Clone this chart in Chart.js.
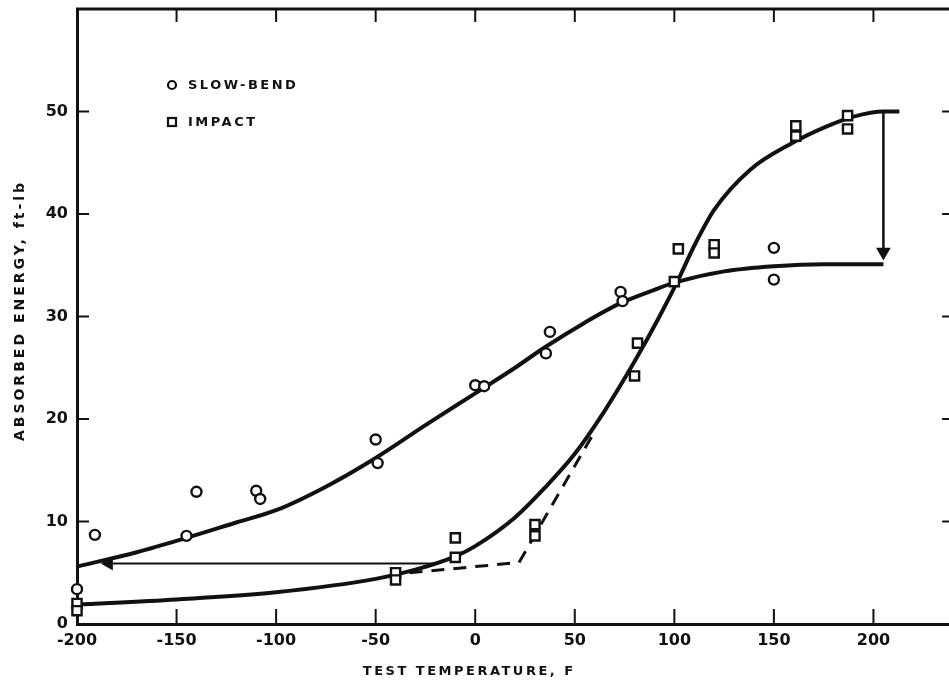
<!DOCTYPE html>
<html>
<head>
<meta charset="utf-8">
<script src="https://cdn.jsdelivr.net/npm/chart.js@4.4.1/dist/chart.umd.min.js"></script>
<style>
  body { margin: 0; background: #fff; overflow: hidden; }
  #c { display: block; }
</style>
</head>
<body>
<canvas id="c" width="960" height="686"></canvas>
<script>
// test points (temperature F, energy ft-lb)
var slowBendT = [-200, -191, -145, -140, -110, -108, -50, -49, 0, 4.5, 35.5, 37.5, 73, 74, 150, 150]
var slowBendE = [3.4, 8.7, 8.6, 12.9, 13.0, 12.2, 18.0, 15.7, 23.3, 23.2, 26.4, 28.5, 32.4, 31.5, 36.7, 33.6]

var impactT = [-200, -200, -40, -40, -10, -10, 30, 30, 80, 81.5, 100, 102, 120, 120, 161, 161, 187, 187]
var impactE = [2.0, 1.3, 5.0, 4.3, 8.4, 6.5, 9.7, 8.6, 24.2, 27.4, 33.4, 36.6, 37.0, 36.2, 48.6, 47.6, 49.6, 48.3]

// hand drawn curves
var slowCurveT = [-200, -170, -145, -120, -100, -75, -50, -25, 0, 20, 35, 55, 73, 90, 100, 125, 150, 175, 205]
var slowCurveE = [5.6, 7.0, 8.4, 9.9, 11.1, 13.4, 16.2, 19.4, 22.5, 25.0, 27.0, 29.4, 31.3, 32.6, 33.3, 34.4, 34.9, 35.1, 35.1]

var impactCurveT = [-200, -150, -100, -50, -30, -10, 0, 20, 35, 50, 65, 80, 92, 102, 110, 120, 138, 159, 176, 190, 205, 213]
var impactCurveE = [1.9, 2.4, 3.1, 4.4, 5.3, 6.6, 7.6, 10.4, 13.3, 16.6, 20.8, 25.6, 29.8, 33.6, 36.9, 40.4, 44.3, 46.9, 48.5, 49.5, 50.0, 50.0]

var dashedT = [-33, 22, 60]
var dashedE = [5.0, 6.0, 18.8]

var lowArrowT = [-20, -184]
var lowArrowE = [5.9, 5.9]
var shelfArrowT = [205, 205]
var shelfArrowE = [50.0, 36.3]

var xTicks = [-200, -150, -100, -50, 0, 50, 100, 150, 200]
var yTicks = [0, 10, 20, 30, 40, 50]

var ink = '#111'

function pts(xs, ys) {
    return xs.map(function (v, i) { return {x: v, y: ys[i]} })
}

var frame = {
    id: 'frame',
    afterDraw: function (chart) {
        var ctx = chart.ctx, a = chart.chartArea
        var x = chart.scales.x, y = chart.scales.y
        ctx.save()
        ctx.strokeStyle = ink
        ctx.fillStyle = ink
        // top edge of the frame
        ctx.lineWidth = 3
        ctx.beginPath(); ctx.moveTo(a.left - 1, a.top); ctx.lineTo(a.right, a.top); ctx.stroke()

        // tick marks pointing into the plot
        ctx.lineWidth = 2
        xTicks.forEach(function (v) {
            if (v === xTicks[0]) return
            var px = x.getPixelForValue(v)
            ctx.beginPath(); ctx.moveTo(px, a.bottom); ctx.lineTo(px, a.bottom - 15); ctx.stroke()
            ctx.beginPath(); ctx.moveTo(px, a.top); ctx.lineTo(px, a.top + 13); ctx.stroke()
        })
        yTicks.forEach(function (v) {
            if (v === 0) return
            var py = y.getPixelForValue(v)
            ctx.beginPath(); ctx.moveTo(a.left, py); ctx.lineTo(a.left + 12, py); ctx.stroke()
            ctx.beginPath(); ctx.moveTo(a.right, py); ctx.lineTo(a.right - 9, py); ctx.stroke()
        })

        // legend
        ctx.font = 'bold 13px "DejaVu Sans"'
        ctx.letterSpacing = '2.5px'
        ctx.textAlign = 'left'
        ctx.textBaseline = 'middle'
        var lx = a.left + 95, ly1 = a.top + 76, ly2 = a.top + 113
        ctx.lineWidth = 2.2
        ctx.beginPath(); ctx.arc(lx, ly1, 4, 0, Math.PI * 2); ctx.stroke()
        ctx.strokeRect(lx - 4, ly2 - 4, 8, 8)
        ctx.fillText('SLOW-BEND', lx + 16, ly1 + 1)
        ctx.fillText('IMPACT', lx + 16, ly2 + 1)

        // axis titles
        ctx.textAlign = 'center'
        ctx.fillText('TEST TEMPERATURE, F', x.getPixelForValue(0) - 6, 672)
        ctx.font = 'bold 14px "DejaVu Sans"'
        ctx.letterSpacing = '3px'
        ctx.translate(20, (a.top + a.bottom) / 2 - 6)
        ctx.rotate(-Math.PI / 2)
        ctx.fillText('ABSORBED ENERGY, ft-lb', 0, 0)
        ctx.restore()
    }
}

var lineBase = {type: 'line', showLine: true, fill: false, pointRadius: 0, borderColor: ink, clip: false, order: 2}

var ctx = document.getElementById('c').getContext('2d')
var chart = new Chart(ctx, {
    type: 'scatter',
    data: {
        datasets: [
            {label: 'SLOW-BEND', data: pts(slowBendT, slowBendE), pointStyle: 'circle', pointRadius: 5,
                pointBorderWidth: 2.4, pointBackgroundColor: '#fff', pointBorderColor: ink, clip: false, order: 0},
            {label: 'IMPACT', data: pts(impactT, impactE), pointStyle: 'rect', pointRadius: 6.5,
                pointBorderWidth: 2.4, pointBackgroundColor: '#fff', pointBorderColor: ink, clip: false, order: 0},
            Object.assign({}, lineBase, {label: 'slow-bend curve', data: pts(slowCurveT, slowCurveE),
                borderWidth: 4, cubicInterpolationMode: 'monotone'}),
            Object.assign({}, lineBase, {label: 'impact curve', data: pts(impactCurveT, impactCurveE),
                borderWidth: 4, cubicInterpolationMode: 'monotone'}),
            Object.assign({}, lineBase, {label: 'dashed', data: pts(dashedT, dashedE),
                borderWidth: 3, borderDash: [13, 9], tension: 0}),
            Object.assign({}, lineBase, {label: 'low arrow', data: pts(lowArrowT, lowArrowE),
                borderWidth: 2, tension: 0, pointRadius: [0, 6], pointStyle: 'triangle', pointRotation: -90,
                pointBackgroundColor: ink, pointBorderColor: ink}),
            Object.assign({}, lineBase, {label: 'shelf arrow', data: pts(shelfArrowT, shelfArrowE),
                borderWidth: 2.5, tension: 0, pointRadius: [0, 6], pointStyle: 'triangle', pointRotation: 180,
                pointBackgroundColor: ink, pointBorderColor: ink})
        ]
    },
    options: {
        responsive: false,
        animation: false,
        devicePixelRatio: 1,
        layout: {padding: {top: 9, right: 0, left: 0, bottom: 0}},
        plugins: {legend: {display: false}, tooltip: {enabled: false}},
        scales: {
            x: {
                type: 'linear', min: -200, max: 239,
                grid: {display: false, drawTicks: false},
                border: {display: true, color: ink, width: 3},
                ticks: {color: ink, padding: 7, font: {family: 'DejaVu Sans', size: 16, weight: 'bold'}},
                afterBuildTicks: function (s) { s.ticks = xTicks.map(function (v) { return {value: v} }) },
                afterFit: function (s) { s.height = 62 }
            },
            y: {
                type: 'linear', min: 0, max: 60,
                grid: {display: false, drawTicks: false},
                border: {display: true, color: ink, width: 3},
                ticks: {color: ink, padding: 9, font: {family: 'DejaVu Sans', size: 16, weight: 'bold'}},
                afterBuildTicks: function (s) { s.ticks = yTicks.map(function (v) { return {value: v} }) },
                afterFit: function (s) { s.width = 77; s.paddingTop = 0; s.paddingBottom = 0 }
            }
        }
    },
    plugins: [frame]
})
</script>
</body>
</html>
